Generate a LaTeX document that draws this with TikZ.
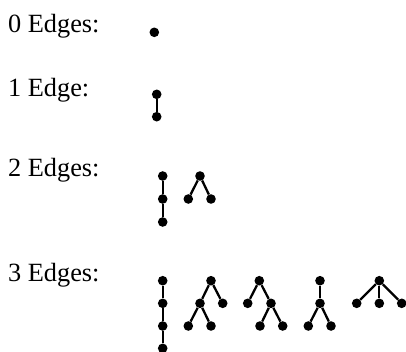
\documentclass[tikz,border=0pt]{standalone}
\usepackage{fontspec}
\setmainfont{Liberation Serif}
\begin{document}
\begin{tikzpicture}[x=1pt,y=-1pt,
  vtx/.style={circle,fill=black,inner sep=0pt,minimum size=9.6pt},
  lbl/.style={anchor=base west,inner sep=0pt,font=\fontsize{26.3}{30}\selectfont},
  edg/.style={line width=2.3pt}]
\useasboundingbox (0,0) rectangle (406,351);
% labels
\node[lbl] (l0) at (8,32) {0 Edges:};
\node[lbl] (l1) at (8,96) {1 Edge:};
\node[lbl] (l2) at (8,176.7) {2 Edges:};
\node[lbl] (l3) at (8,281.7) {3 Edges:};
% 0 edges
\node[vtx] (a0) at (154.3,32.3) {};
% 1 edge
\node[vtx] (b0) at (156.7,94.3) {};
\node[vtx] (b1) at (156.7,116.7) {};
\draw[edg] (b0) -- (b1);
% 2 edges: path
\node[vtx] (c0) at (162.7,176) {};
\node[vtx] (c1) at (162.7,199) {};
\node[vtx] (c2) at (162.7,222) {};
\draw[edg] (c0) -- (c1) -- (c2);
% 2 edges: wedge
\node[vtx] (d0) at (200,176) {};
\node[vtx] (d1) at (188.3,199) {};
\node[vtx] (d2) at (211,199) {};
\draw[edg] (d1) -- (d0) -- (d2);
% 3 edges: path
\node[vtx] (e0) at (162.7,280.7) {};
\node[vtx] (e1) at (162.7,303.3) {};
\node[vtx] (e2) at (162.7,326) {};
\node[vtx] (e3) at (162.7,348.3) {};
\draw[edg] (e0) -- (e1) -- (e2) -- (e3);
% tree 2
\node[vtx] (f0) at (211,280.7) {};
\node[vtx] (f1) at (200,303.3) {};
\node[vtx] (f2) at (222.7,303.3) {};
\node[vtx] (f3) at (188.3,326) {};
\node[vtx] (f4) at (211,326) {};
\draw[edg] (f0) -- (f1); \draw[edg] (f0) -- (f2);
\draw[edg] (f1) -- (f3); \draw[edg] (f1) -- (f4);
% tree 3
\node[vtx] (g0) at (259.3,280.7) {};
\node[vtx] (g1) at (247.7,303.3) {};
\node[vtx] (g2) at (271,303.3) {};
\node[vtx] (g3) at (260,326) {};
\node[vtx] (g4) at (282.7,326) {};
\draw[edg] (g0) -- (g1); \draw[edg] (g0) -- (g2);
\draw[edg] (g2) -- (g3); \draw[edg] (g2) -- (g4);
% tree 4
\node[vtx] (h0) at (320,280.7) {};
\node[vtx] (h1) at (320,303.3) {};
\node[vtx] (h2) at (308.3,326) {};
\node[vtx] (h3) at (331,326) {};
\draw[edg] (h0) -- (h1);
\draw[edg] (h1) -- (h2); \draw[edg] (h1) -- (h3);
% tree 5
\node[vtx] (k0) at (379.3,280.7) {};
\node[vtx] (k1) at (356.7,303.3) {};
\node[vtx] (k2) at (379.3,303.3) {};
\node[vtx] (k3) at (401.7,303.3) {};
\draw[edg] (k0) -- (k1); \draw[edg] (k0) -- (k2); \draw[edg] (k0) -- (k3);
\end{tikzpicture}
\end{document}
